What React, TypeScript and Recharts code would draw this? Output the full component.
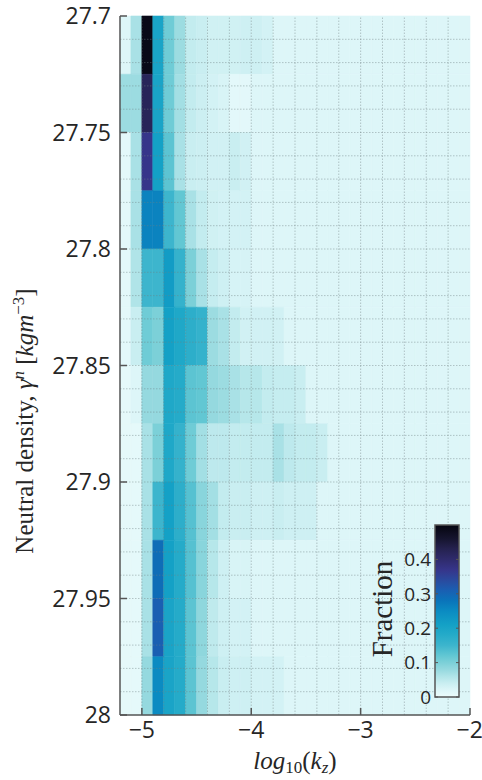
import { ComposedChart, XAxis, YAxis, ReferenceArea, ReferenceLine, Scatter } from 'recharts'

// bin left edges, log10(kz)
const kzBins = [
  -5.2, -5.1, -5.0, -4.9, -4.8, -4.7, -4.6, -4.5, -4.4, -4.3, -4.2, -4.1, -4.0, -3.9, -3.8, -3.7,
  -3.6, -3.5, -3.4, -3.3, -3.2, -3.1, -3.0, -2.9, -2.8, -2.7, -2.6, -2.5, -2.4, -2.3, -2.2, -2.1,
]
const KZ_STEP = 0.1

// bin top edges, neutral density
const densityBins = [27.7, 27.725, 27.75, 27.775, 27.8, 27.825, 27.85, 27.875, 27.9, 27.925, 27.95, 27.975]
const DENSITY_STEP = 0.025

// fraction per bin, one array per density bin
const row27700 = [0.02, 0.065, 0.49, 0.2, 0.11, 0.075, 0.045, 0.04, 0.033, 0.033, 0.033, 0.035, 0.035, 0.03, 0.02, 0.02, 0.02, 0.02, 0.02, 0.02, 0.02, 0.02, 0.02, 0.02, 0.02, 0.02, 0.02, 0.02, 0.02, 0.02, 0.02, 0.02]
const row27725 = [0.075, 0.075, 0.42, 0.2, 0.11, 0.07, 0.045, 0.037, 0.03, 0.025, 0.012, 0.012, 0.02, 0.02, 0.02, 0.02, 0.02, 0.02, 0.02, 0.02, 0.02, 0.02, 0.02, 0.02, 0.02, 0.02, 0.02, 0.02, 0.02, 0.02, 0.02, 0.02]
const row27750 = [0.012, 0.065, 0.37, 0.21, 0.125, 0.065, 0.04, 0.037, 0.032, 0.032, 0.04, 0.032, 0.02, 0.02, 0.02, 0.02, 0.02, 0.02, 0.02, 0.02, 0.02, 0.02, 0.02, 0.02, 0.02, 0.02, 0.02, 0.02, 0.02, 0.02, 0.02, 0.02]
const row27775 = [0.012, 0.065, 0.26, 0.26, 0.15, 0.12, 0.065, 0.045, 0.033, 0.03, 0.03, 0.03, 0.02, 0.02, 0.02, 0.02, 0.02, 0.02, 0.02, 0.02, 0.02, 0.02, 0.02, 0.02, 0.02, 0.02, 0.02, 0.02, 0.02, 0.02, 0.02, 0.02]
const row27800 = [0.012, 0.06, 0.15, 0.15, 0.22, 0.16, 0.1, 0.065, 0.043, 0.035, 0.027, 0.027, 0.02, 0.02, 0.02, 0.02, 0.02, 0.02, 0.02, 0.02, 0.02, 0.02, 0.02, 0.02, 0.02, 0.02, 0.02, 0.02, 0.02, 0.02, 0.02, 0.02]
const row27825 = [0.012, 0.04, 0.11, 0.1, 0.21, 0.19, 0.17, 0.16, 0.075, 0.065, 0.045, 0.032, 0.032, 0.032, 0.032, 0.02, 0.02, 0.02, 0.02, 0.02, 0.02, 0.02, 0.02, 0.02, 0.02, 0.02, 0.02, 0.02, 0.02, 0.02, 0.02, 0.02]
const row27850 = [0.01, 0.02, 0.08, 0.08, 0.19, 0.18, 0.125, 0.12, 0.08, 0.075, 0.065, 0.055, 0.055, 0.045, 0.043, 0.043, 0.04, 0.02, 0.02, 0.02, 0.02, 0.02, 0.02, 0.02, 0.02, 0.02, 0.02, 0.02, 0.02, 0.02, 0.02, 0.02]
const row27875 = [0.01, 0.01, 0.065, 0.1, 0.19, 0.16, 0.11, 0.07, 0.05, 0.05, 0.045, 0.045, 0.045, 0.045, 0.065, 0.05, 0.045, 0.045, 0.04, 0.02, 0.02, 0.02, 0.02, 0.02, 0.02, 0.02, 0.02, 0.02, 0.02, 0.02, 0.02, 0.02]
const row27900 = [0.01, 0.01, 0.065, 0.15, 0.21, 0.17, 0.13, 0.09, 0.07, 0.045, 0.04, 0.04, 0.035, 0.035, 0.04, 0.035, 0.035, 0.035, 0.02, 0.02, 0.02, 0.02, 0.02, 0.02, 0.02, 0.02, 0.02, 0.02, 0.02, 0.02, 0.02, 0.02]
const row27925 = [0.01, 0.01, 0.065, 0.29, 0.21, 0.18, 0.13, 0.09, 0.055, 0.035, 0.025, 0.025, 0.02, 0.02, 0.02, 0.02, 0.02, 0.02, 0.02, 0.02, 0.02, 0.02, 0.02, 0.02, 0.02, 0.02, 0.02, 0.02, 0.02, 0.02, 0.02, 0.02]
const row27950 = [0.01, 0.01, 0.065, 0.31, 0.2, 0.18, 0.125, 0.085, 0.048, 0.035, 0.03, 0.03, 0.02, 0.02, 0.02, 0.02, 0.02, 0.02, 0.02, 0.02, 0.02, 0.02, 0.02, 0.02, 0.02, 0.02, 0.02, 0.02, 0.02, 0.02, 0.02, 0.02]
const row27975 = [0.01, 0.01, 0.08, 0.25, 0.2, 0.18, 0.125, 0.08, 0.055, 0.04, 0.035, 0.035, 0.03, 0.03, 0.03, 0.02, 0.02, 0.02, 0.02, 0.02, 0.02, 0.02, 0.02, 0.02, 0.02, 0.02, 0.02, 0.02, 0.02, 0.02, 0.02, 0.02]

const fractionRows = [
  row27700, row27725, row27750, row27775, row27800, row27825,
  row27850, row27875, row27900, row27925, row27950, row27975,
]

const xTicks = [-5, -4, -3, -2]
const yTicks = [27.7, 27.75, 27.8, 27.85, 27.9, 27.95, 28]
const gridX = [-5.0, -4.8, -4.6, -4.4, -4.2, -4.0, -3.8, -3.6, -3.4, -3.2, -3.0, -2.8, -2.6, -2.4, -2.2]
const gridY = [
  27.71, 27.72, 27.73, 27.74, 27.75, 27.76, 27.77, 27.78, 27.79, 27.8, 27.81, 27.82, 27.83, 27.84, 27.85,
  27.86, 27.87, 27.88, 27.89, 27.9, 27.91, 27.92, 27.93, 27.94, 27.95, 27.96, 27.97, 27.98, 27.99,
]
const cbarTicks = [0, 0.1, 0.2, 0.3, 0.4]
const CBAR_MAX = 0.5

// reversed "ice"-like colormap
const ICE: [number, string][] = [
  [0.0, '#ecfcfc'],
  [0.02, '#ddf6f8'],
  [0.04, '#c9eef1'],
  [0.06, '#b0e4e8'],
  [0.08, '#95d9df'],
  [0.1, '#7cd0d8'],
  [0.12, '#62c7d3'],
  [0.15, '#3db5cd'],
  [0.18, '#25abc9'],
  [0.21, '#14a1c6'],
  [0.25, '#0b8bc2'],
  [0.28, '#0a74ba'],
  [0.31, '#1a5fb2'],
  [0.34, '#2a4a9e'],
  [0.37, '#36358a'],
  [0.4, '#2f2b6c'],
  [0.43, '#252250'],
  [0.46, '#16152f'],
  [0.5, '#05050f'],
]

const hex = (c: string) => [1, 3, 5].map((i) => parseInt(c.slice(i, i + 2), 16))

function iceColor(v: number) {
  const t = Math.max(0, Math.min(CBAR_MAX, v))
  for (let i = 1; i < ICE.length; i++) {
    const [v1, c1] = ICE[i]
    if (t <= v1) {
      const [v0, c0] = ICE[i - 1]
      const f = (t - v0) / (v1 - v0)
      const a = hex(c0)
      const b = hex(c1)
      const m = a.map((x, k) => Math.round(x + (b[k] - x) * f))
      return `rgb(${m[0]},${m[1]},${m[2]})`
    }
  }
  return ICE[ICE.length - 1][1]
}

const AXIS = '#555'
const TEXT = '#262626'
const GRID = 'rgba(110,128,132,0.55)'
const SANS = '"Open Sans", "DejaVu Sans", sans-serif'
const SERIF = '"Liberation Serif", "DejaVu Serif", serif'

const minus = (v: number) => String(v).replace('-', '\u2212')
const NoShape = () => <g />

function XTitle() {
  return (
    <text x={295} y={769} textAnchor="middle" fontFamily={SERIF} fontSize={25} fill={TEXT}>
      <tspan fontStyle="italic">log</tspan>
      <tspan fontSize={17} dy={4}>10</tspan>
      <tspan dy={-4}>(</tspan>
      <tspan fontStyle="italic">k</tspan>
      <tspan fontStyle="italic" fontSize={17} dy={4}>z</tspan>
      <tspan dy={-4}>)</tspan>
    </text>
  )
}

function YTitle() {
  return (
    <text
      x={0}
      y={0}
      transform="translate(33,421) rotate(-90)"
      textAnchor="middle"
      fontFamily={SERIF}
      fontSize={25}
      fill={TEXT}
    >
      <tspan>Neutral density, </tspan>
      <tspan fontStyle="italic">γ</tspan>
      <tspan fontStyle="italic" fontSize={17} dy={-9}>n</tspan>
      <tspan dy={9}> [</tspan>
      <tspan fontStyle="italic">kgm</tspan>
      <tspan fontSize={17} dy={-9}>−3</tspan>
      <tspan dy={9}>]</tspan>
    </text>
  )
}

function Colorbar() {
  const x = 435
  const top = 525
  const w = 24
  const h = 172
  const yOf = (v: number) => top + h - (v / CBAR_MAX) * h
  return (
    <svg
      width={482}
      height={780}
      style={{ position: 'absolute', left: 0, top: 0, pointerEvents: 'none' }}
    >
      <defs>
        <linearGradient id="ice" x1="0" y1="1" x2="0" y2="0">
          {ICE.map(([v, c]) => (
            <stop key={v} offset={v / CBAR_MAX} stopColor={c} />
          ))}
        </linearGradient>
      </defs>
      <rect x={x} y={top} width={w} height={h} fill="url(#ice)" stroke={AXIS} strokeWidth={1.5} />
      {cbarTicks.map((v) => (
        <g key={v}>
          <line x1={x} x2={x + 3} y1={yOf(v)} y2={yOf(v)} stroke={AXIS} strokeWidth={1} />
          <line x1={x + w - 3} x2={x + w} y1={yOf(v)} y2={yOf(v)} stroke={AXIS} strokeWidth={1} />
          <text
            x={x - 4}
            y={yOf(v)}
            dy="0.36em"
            textAnchor="end"
            fontFamily={SANS}
            fontSize={19}
            fill={TEXT}
          >
            {v}
          </text>
        </g>
      ))}
      <text
        transform="translate(392,609) rotate(-90)"
        textAnchor="middle"
        fontFamily={SERIF}
        fontSize={29}
        fill={TEXT}
      >
        Fraction
      </text>
    </svg>
  )
}

export default function App() {
  const cells = fractionRows.flatMap((row, r) =>
    row.map((v, c) => ({
      x1: kzBins[c],
      x2: kzBins[c] + KZ_STEP,
      y1: densityBins[r],
      y2: densityBins[r] + DENSITY_STEP,
      x: kzBins[c] + KZ_STEP / 2,
      y: densityBins[r] + DENSITY_STEP / 2,
      v,
    }))
  )

  return (
    <div style={{ position: 'absolute', left: 0, top: 0, width: 482, height: 780, background: '#fff' }}>
      <ComposedChart width={482} height={780} margin={{ top: 16, right: 12, bottom: 0, left: 0 }}>
        <XAxis
          xAxisId="b"
          dataKey="x"
          type="number"
          domain={[-5.2, -2]}
          allowDataOverflow
          ticks={xTicks}
          tickFormatter={minus}
          height={65}
          stroke={AXIS}
          strokeWidth={1.5}
          tickSize={-7}
          tickMargin={14}
          tick={{ fontFamily: SANS, fontSize: 23, fill: TEXT }}
          label={{ content: () => <XTitle /> }}
        />
        <XAxis
          xAxisId="t"
          dataKey="x"
          orientation="top"
          type="number"
          domain={[-5.2, -2]}
          allowDataOverflow
          ticks={xTicks}
          height={0}
          stroke={AXIS}
          strokeWidth={1.5}
          tickSize={-7}
          tick={NoShape}
        />
        <YAxis
          yAxisId="l"
          dataKey="y"
          type="number"
          domain={[27.7, 28]}
          allowDataOverflow
          reversed
          ticks={yTicks}
          width={120}
          stroke={AXIS}
          strokeWidth={1.5}
          tickSize={-7}
          tickMargin={16}
          tick={{ fontFamily: SANS, fontSize: 23, fill: TEXT }}
          label={{ content: () => <YTitle /> }}
        />
        <YAxis
          yAxisId="r"
          dataKey="y"
          orientation="right"
          type="number"
          domain={[27.7, 28]}
          allowDataOverflow
          reversed
          ticks={yTicks}
          width={0}
          stroke={AXIS}
          strokeWidth={1.5}
          tickSize={-7}
          tick={NoShape}
        />
        {cells.map((c, i) => (
          <ReferenceArea
            key={i}
            xAxisId="b"
            yAxisId="l"
            x1={c.x1}
            x2={c.x2}
            y1={c.y1}
            y2={c.y2}
            fill={iceColor(c.v)}
            fillOpacity={1}
            stroke={iceColor(c.v)}
            strokeWidth={0.6}
            ifOverflow="visible"
          />
        ))}
        {gridX.map((v) => (
          <ReferenceLine
            key={`gx${v}`}
            xAxisId="b"
            yAxisId="l"
            x={v}
            stroke={GRID}
            strokeWidth={0.8}
            strokeDasharray="1.5 1.5"
          />
        ))}
        {gridY.map((v) => (
          <ReferenceLine
            key={`gy${v}`}
            xAxisId="b"
            yAxisId="l"
            y={v}
            stroke={GRID}
            strokeWidth={0.8}
            strokeDasharray="1.5 1.5"
          />
        ))}
        <Scatter
          data={cells}
          dataKey="y"
          xAxisId="b"
          yAxisId="l"
          shape={NoShape}
          isAnimationActive={false}
        />
        <Scatter
          data={cells}
          dataKey="y"
          xAxisId="t"
          yAxisId="r"
          shape={NoShape}
          isAnimationActive={false}
        />
      </ComposedChart>
      <Colorbar />
    </div>
  )
}
